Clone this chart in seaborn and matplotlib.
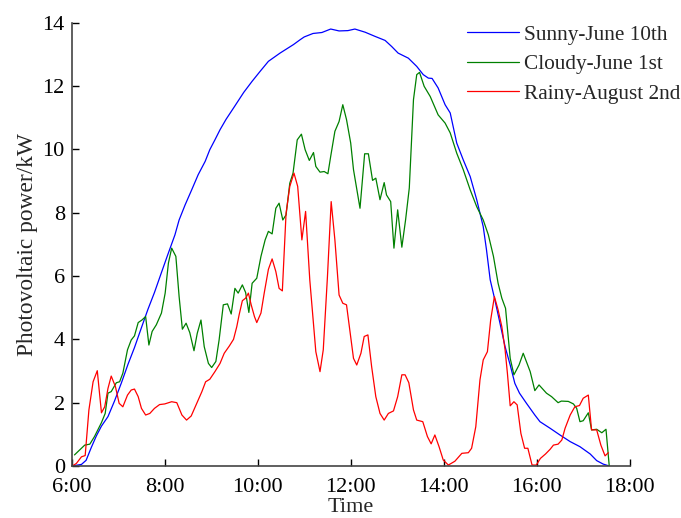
import numpy as np
import pandas as pd
import matplotlib
matplotlib.use("Agg")
import matplotlib.pyplot as plt
import seaborn as sns

# ---------------- data (time in decimal hours, power in kW) ----------------
labels = ["Sunny-June 10th", "Cloudy-June 1st", "Rainy-August 2nd"]
colors = ["#0000ff", "#008000", "#ff0000"]

sunny_t = [6.00, 6.21, 6.31, 6.42, 6.53, 6.64, 6.78, 6.92, 7.07, 7.21, 7.35, 7.50,
           7.64, 7.78, 7.93, 8.07, 8.22, 8.31, 8.44, 8.58, 8.72, 8.87, 8.97, 9.08,
           9.19, 9.32, 9.50, 9.70, 9.88, 10.05, 10.23, 10.48, 10.77, 10.91, 11.00,
           11.19, 11.38, 11.57, 11.75, 11.94, 12.09, 12.31, 12.52, 12.74, 12.88,
           13.02, 13.24, 13.42, 13.56, 13.67, 13.75, 13.88, 14.03, 14.14, 14.28,
           14.42, 14.57, 14.71, 14.85, 14.92, 15.00, 15.10, 15.21, 15.32, 15.43,
           15.53, 15.63, 15.78, 15.96, 16.07, 16.29, 16.50, 16.72, 16.93, 17.15,
           17.29, 17.43, 17.56]
sunny_v = [0.00, 0.05, 0.18, 0.58, 0.95, 1.26, 1.56, 2.05, 2.63, 3.21, 3.74, 4.37,
           4.95, 5.48, 6.11, 6.69, 7.30, 7.77, 8.25, 8.72, 9.20, 9.62, 9.99, 10.30,
           10.62, 10.95, 11.35, 11.80, 12.15, 12.46, 12.78, 13.04, 13.31, 13.46, 13.55,
           13.66, 13.69, 13.80, 13.74, 13.75, 13.80, 13.70, 13.57, 13.44, 13.25,
           13.04, 12.88, 12.62, 12.36, 12.25, 12.24, 11.94, 11.41, 11.15, 10.20,
           9.67, 9.14, 8.41, 7.56, 6.83, 5.88, 5.25, 4.51, 3.77, 3.19,
           2.61, 2.30, 1.98, 1.61, 1.40, 1.19, 0.98, 0.77, 0.61, 0.38,
           0.17, 0.06, 0.00]

cloudy_t = [6.06, 6.28, 6.39, 6.49, 6.64, 6.72, 6.78, 6.85, 6.96, 7.03, 7.10, 7.20,
            7.28, 7.35, 7.43, 7.51, 7.59, 7.66, 7.73, 7.82, 7.93, 8.01, 8.08, 8.15,
            8.24, 8.31, 8.38, 8.46, 8.54, 8.63, 8.70, 8.78, 8.85, 8.94, 9.01, 9.10,
            9.17, 9.26, 9.35, 9.43, 9.51, 9.58, 9.67, 9.74, 9.81, 9.88, 9.98, 10.07,
            10.16, 10.23, 10.31, 10.39, 10.46, 10.54, 10.61, 10.69, 10.76, 10.85,
            10.94, 11.02, 11.11, 11.20, 11.25, 11.34, 11.43, 11.51, 11.57, 11.66,
            11.75, 11.83, 11.91, 12.00, 12.06, 12.20, 12.30, 12.38, 12.47, 12.54,
            12.63, 12.72, 12.77, 12.86, 12.93, 13.01, 13.10, 13.18, 13.26, 13.35,
            13.42, 13.48, 13.58, 13.71, 13.88, 14.03, 14.14, 14.28, 14.42, 14.57,
            14.71, 14.85, 14.96, 15.07, 15.17, 15.25, 15.33, 15.43, 15.51, 15.62,
            15.71, 15.86, 15.96, 16.05, 16.21, 16.32, 16.46, 16.53, 16.68, 16.79,
            16.86, 16.93, 17.00, 17.11, 17.18, 17.29, 17.40, 17.49, 17.56]
cloudy_v = [0.35, 0.66, 0.69, 0.93, 1.37, 1.66, 2.30, 2.35, 2.63, 2.66, 2.93, 3.67,
            3.98, 4.11, 4.53, 4.61, 4.72, 3.82, 4.25, 4.46, 4.83, 5.46, 6.41, 6.88,
            6.62, 5.35, 4.32, 4.51, 4.21, 3.64, 4.19, 4.61, 3.77, 3.24, 3.11, 3.30,
            3.98, 5.09, 5.12, 4.80, 5.61, 5.46, 5.72, 5.48, 4.85, 5.77, 5.93, 6.62,
            7.14, 7.41, 7.33, 8.14, 8.30, 7.77, 7.93, 8.93, 9.25, 10.30,
            10.48, 9.99, 9.65, 9.90, 9.46, 9.28, 9.30, 9.23, 9.78, 10.57,
            10.88, 11.41, 10.94, 10.20, 9.36, 8.14, 9.86, 9.86, 9.02, 9.09,
            8.41, 8.95, 8.56, 8.35, 6.88, 8.09, 6.91, 7.77, 8.78, 11.57,
            12.36, 12.43, 11.99, 11.67, 11.09, 10.83, 10.52, 9.88, 9.36, 8.72,
            8.19, 7.77, 7.30, 6.62, 5.77, 5.30, 4.98, 3.40, 2.88, 3.19,
            3.56, 2.98, 2.38, 2.56, 2.30, 2.19, 2.00, 2.05, 2.04, 1.96,
            1.82, 1.40, 1.43, 1.68, 1.14, 1.16, 1.05, 1.16, 0.00]

rainy_t = [6.01, 6.10, 6.21, 6.29, 6.37, 6.46, 6.55, 6.64, 6.71, 6.78, 6.85, 6.94,
           7.02, 7.10, 7.20, 7.28, 7.35, 7.43, 7.50, 7.59, 7.68, 7.78, 7.89, 8.00,
           8.15, 8.26, 8.37, 8.47, 8.57, 8.69, 8.80, 8.88, 8.97, 9.08, 9.19, 9.28,
           9.39, 9.48, 9.55, 9.60, 9.67, 9.74, 9.80, 9.86, 9.93, 9.98, 10.07, 10.14,
           10.23, 10.31, 10.39, 10.46, 10.53, 10.61, 10.69, 10.78, 10.86, 10.95,
           11.03, 11.12, 11.25, 11.34, 11.41, 11.50, 11.58, 11.66, 11.75, 11.83,
           11.91, 11.98, 12.06, 12.13, 12.22, 12.29, 12.37, 12.45, 12.54, 12.63,
           12.72, 12.81, 12.92, 13.01, 13.10, 13.17, 13.25, 13.35, 13.42, 13.55,
           13.65, 13.73, 13.81, 13.90, 13.99, 14.10, 14.24, 14.39, 14.53, 14.60,
           14.69, 14.78, 14.85, 14.94, 15.01, 15.09, 15.17, 15.25, 15.32, 15.37,
           15.43, 15.51, 15.58, 15.66, 15.74, 15.81, 15.90, 15.99, 16.08, 16.19,
           16.29, 16.36, 16.46, 16.54, 16.61, 16.72, 16.82, 16.92, 17.00, 17.11,
           17.18, 17.29, 17.38, 17.47, 17.54]
rainy_v = [0.00, 0.08, 0.29, 0.33, 1.77, 2.66, 3.01, 1.68, 1.87, 2.45, 2.84, 2.51,
           1.98, 1.87, 2.24, 2.40, 2.43, 2.19, 1.82, 1.61, 1.66, 1.82, 1.94, 1.96,
           2.03, 2.00, 1.61, 1.45, 1.58, 1.98, 2.35, 2.66, 2.74, 2.98, 3.24, 3.56,
           3.79, 4.00, 4.40, 4.77, 5.22, 5.30, 5.46, 5.09, 4.72, 4.53, 4.83, 5.46,
           6.21, 6.54, 6.14, 5.61, 5.53, 7.98, 8.83, 9.25, 8.83, 7.14,
           8.04, 5.88, 3.61, 2.98, 3.67, 5.98, 8.35, 7.14, 5.40, 5.14,
           5.09, 4.30, 3.40, 3.19, 3.56, 4.09, 4.14, 3.14, 2.19, 1.66,
           1.45, 1.66, 1.74, 2.19, 2.88, 2.88, 2.63, 1.77, 1.45, 1.40,
           0.93, 0.70, 0.98, 0.61, 0.19, 0.03, 0.15, 0.40, 0.42, 0.56,
           1.24, 2.72, 3.35, 3.61, 4.61, 5.35, 4.93, 4.40, 3.67, 2.93,
           1.90, 2.03, 1.93, 1.03, 0.56, 0.56, 0.03, 0.03, 0.24, 0.38,
           0.53, 0.66, 0.69, 0.82, 1.19, 1.61, 1.87, 1.91, 2.14, 2.24,
           1.14, 1.14, 0.66, 0.32, 0.42]

x_ticks = [6, 8, 10, 12, 14, 16, 18]
x_tick_labels = ["6:00", "8:00", "10:00", "12:00", "14:00", "16:00", "18:00"]
y_ticks = [0, 2, 4, 6, 8, 10, 12, 14]

df = pd.concat([
    pd.DataFrame({"time": sunny_t, "power": sunny_v, "series": labels[0]}),
    pd.DataFrame({"time": cloudy_t, "power": cloudy_v, "series": labels[1]}),
    pd.DataFrame({"time": rainy_t, "power": rainy_v, "series": labels[2]}),
], ignore_index=True)

# ---------------- style ----------------
sns.set_style("ticks")
plt.rcParams['font.family'] = ['Liberation Serif', 'DejaVu Serif']

fig = plt.figure(figsize=(6.81, 5.18), dpi=100)
ax = fig.add_axes([71.7 / 681, 1 - 466 / 518, (629.7 - 71.7) / 681, (466 - 22.7) / 518])

sns.lineplot(data=df, x="time", y="power", hue="series", hue_order=labels,
             palette=dict(zip(labels, colors)), sort=False, estimator=None,
             linewidth=0.9, ax=ax)

ax.set_xlim(6, 18)
ax.set_ylim(0, 14)
ax.set_xticks(x_ticks)
ax.set_xticklabels(x_tick_labels)
ax.set_yticks(y_ticks)
ax.tick_params(direction="in", length=5, width=1.0, labelsize=16,
               colors="black")
ax.tick_params(axis="x", pad=9)
ax.tick_params(axis="y", pad=5)
sns.despine(ax=ax)
for s in ("left", "bottom"):
    ax.spines[s].set_linewidth(1.2)
    ax.spines[s].set_color("#444444")

ax.set_xlabel("Time", fontsize=16, labelpad=0.5)
ax.set_ylabel("Photovoltaic power/kW", fontsize=16.8, labelpad=3)

leg = ax.legend(frameon=False, loc="upper left",
                bbox_to_anchor=(467 / 681, 1 - 25 / 518),
                bbox_transform=fig.transFigure, fontsize=15.3,
                handlelength=2.45, handletextpad=0.25, labelspacing=0.45,
                borderpad=0, borderaxespad=0)
for h in leg.get_lines():
    h.set_linewidth(0.9)

fig.savefig("out.png", dpi=100)
